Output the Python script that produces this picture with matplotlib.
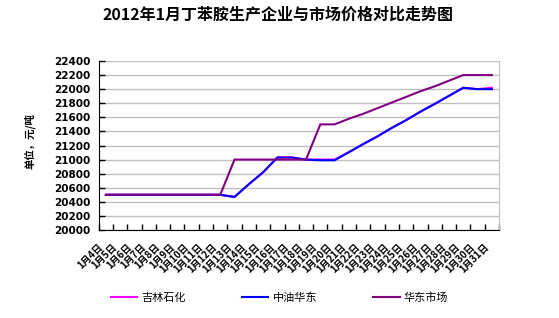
import matplotlib
matplotlib.use("Agg")
import matplotlib.pyplot as plt
import matplotlib.transforms as mtransforms
import numpy as np

plt.rcParams['font.family'] = ['Noto Sans CJK SC', 'DejaVu Sans']

title = "2012年1月丁苯胺生产企业与市场价格对比走势图"
ylabel = "单位，元/吨"
dates = [f"1月{d}日" for d in range(4, 32)]
series_names = ["吉林石化", "中油华东", "华东市场"]

jilin = [20500, 20500, 20500, 20500, 20500, 20500, 20500, 20500, 20500,
         20470, 20650, 20820, 21030, 21030, 21000, 21000, 21000,
         21105, 21220, 21330, 21450, 21560, 21680, 21790, 21905, 22020,
         22000, 22020]
zhongyou = [20500, 20500, 20500, 20500, 20500, 20500, 20500, 20500, 20500,
            20470, 20650, 20820, 21030, 21030, 21000, 20990, 20990,
            21105, 21220, 21330, 21450, 21560, 21680, 21790, 21905, 22020,
            22000, 22000]
huadong = [20500, 20500, 20500, 20500, 20500, 20500, 20500, 20500, 20500,
           21000, 21000, 21000, 21000, 21000, 21000, 21500, 21500,
           21580, 21650, 21730, 21810, 21890, 21970, 22040, 22120, 22200,
           22200, 22200]
yticks = list(range(20000, 22401, 200))

colors = ["#FF00FF", "#0000FF", "#800080"]

fig = plt.figure(figsize=(5.59, 3.18), dpi=100)
ax = fig.add_axes([0.1766, 0.2767, 0.8927 - 0.1766, 0.8082 - 0.2767])

x = np.arange(len(dates))
for vals, c, name in zip([jilin, zhongyou, huadong], colors, series_names):
    ax.plot(x, vals, color=c, lw=1.5, label=name, solid_joinstyle='miter')

ax.set_xlim(-0.5, len(dates) - 0.5)
ax.set_ylim(20000, 22400)
ax.set_yticks(yticks)
ax.set_yticklabels([str(v) for v in yticks], fontsize=7.5, fontweight='bold',
                   family='DejaVu Sans')
ax.yaxis.grid(True, color='#c0c0c0', lw=1)
ax.set_axisbelow(True)

ax.set_xticks(x)
ax.set_xticklabels([])
ax.tick_params(axis='x', which='major', length=0)
ax.set_xticks(np.arange(-0.5, len(dates), 1), minor=True)
ax.tick_params(axis='x', which='minor', length=4, direction='in', width=1)
ax.tick_params(axis='y', which='major', length=4, direction='in', width=1, pad=6)

trans = mtransforms.blended_transform_factory(ax.transData, ax.transAxes) + \
    mtransforms.ScaledTranslation(-0.08, -0.12, fig.dpi_scale_trans)
for xi, lab in zip(x, dates):
    ax.text(xi, 0, lab, transform=trans, rotation=45, ha='right', va='top',
            rotation_mode='anchor', fontsize=7, fontweight='bold',
            clip_on=False)

ax.spines['top'].set_visible(False)
ax.spines['right'].set_color('#c0c0c0')
ax.spines['left'].set_color('black')
ax.spines['bottom'].set_color('black')

fig.text(0.498, 0.953, title, ha='center', va='center', fontsize=11.5,
         fontweight='bold')
fig.text(0.054, 0.557, ylabel, ha='center', va='center', rotation=90,
         fontsize=7.5, fontweight='bold')

handles, labels = ax.get_legend_handles_labels()
fig.legend(handles, labels, ncol=3, loc='center',
           bbox_to_anchor=(0.5, 1 - 298 / 318), frameon=False, fontsize=8,
           handlelength=2.4, handletextpad=0.4, columnspacing=5.0)

fig.savefig("out.png", dpi=100)
